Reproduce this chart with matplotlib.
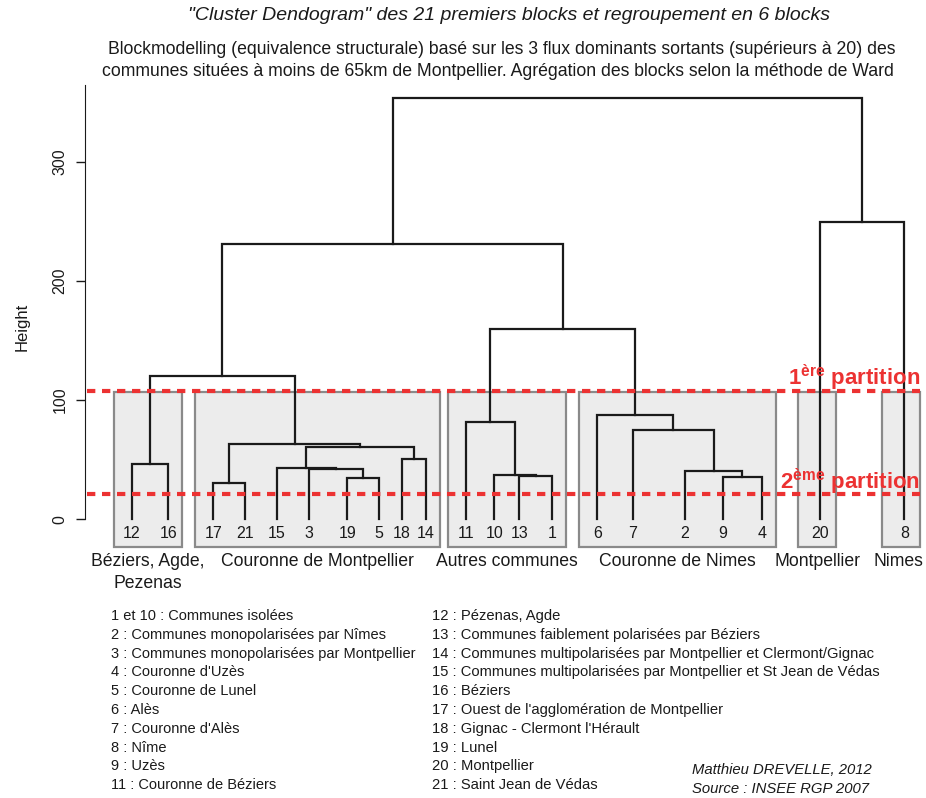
import matplotlib
matplotlib.use("Agg")
import matplotlib.pyplot as plt
from matplotlib.patches import Rectangle

plt.rcParams['font.family'] = ['Liberation Sans', 'DejaVu Sans']
plt.rcParams['mathtext.fontset'] = 'custom'
plt.rcParams['mathtext.rm'] = 'Liberation Sans:bold'
plt.rcParams['mathtext.bf'] = 'Liberation Sans:bold'

# leaves, left to right
leaf_order = [12, 16, 17, 21, 15, 3, 19, 5, 18, 14, 11, 10, 13, 1, 6, 7, 2, 9, 4, 20, 8]

# merges (R hclust style: negative = leaf id, positive = earlier merge number)
merge_left = [-17, -19, -9, -13, -10, -2, -3, -15, -12, -18, 8, 1, -7, -11, -6, 9, 14, 16, -20, 18]
merge_right = [-21, -5, -4, -1, 4, 3, 2, 7, -16, -14, 10, 11, 6, 5, 13, 12, 15, 17, -8, 19]
merge_height = [30.7, 34.9, 35.7, 36.6, 37.4, 40.3, 41.9, 43.3, 46.1, 50.6,
                60.9, 62.9, 75.2, 81.9, 87.8, 120.5, 159.4, 231.2, 249.7, 353.7]

# cut heights
partitions = [107.9, 21.2]
partition_names = ["1", "2"]
partition_sup = ["ère", "ème"]

groups = ["Béziers, Agde,\nPezenas", "Couronne de Montpellier", "Autres communes",
          "Couronne de Nimes", "Montpellier", "Nimes"]
group_members = [[12, 16], [17, 21, 15, 3, 19, 5, 18, 14], [11, 10, 13, 1],
                 [6, 7, 2, 9, 4], [20], [8]]

legend_left = [
    "1 et 10 : Communes isolées",
    "2 : Communes monopolarisées par Nîmes",
    "3 : Communes monopolarisées par Montpellier",
    "4 : Couronne d'Uzès",
    "5 : Couronne de Lunel",
    "6 : Alès",
    "7 : Couronne d'Alès",
    "8 : Nîme",
    "9 : Uzès",
    "11 : Couronne de Béziers",
]
legend_right = [
    "12 : Pézenas, Agde",
    "13 : Communes faiblement polarisées par Béziers",
    "14 : Communes multipolarisées par Montpellier et Clermont/Gignac",
    "15 : Communes multipolarisées par Montpellier et St Jean de Védas",
    "16 : Béziers",
    "17 : Ouest de l'agglomération de Montpellier",
    "18 : Gignac - Clermont l'Hérault",
    "19 : Lunel",
    "20 : Montpellier",
    "21 : Saint Jean de Védas",
]

# layout: leaf positions along the x axis (the leaves were spread by hand in the original)
leaf_x = [131.7, 168.3, 213.3, 245, 276.7, 309, 347.3, 379.3, 401.7, 426,
          465.7, 494.3, 519.3, 552.3, 597.3, 632.7, 685, 722.7, 761.7, 820, 904.3]

W, H = 926, 798
fig = plt.figure(figsize=(W / 100, H / 100), dpi=100)
ax = fig.add_axes([0, 0, 1, 1])
# pixel row -> height
y0, k = 519.3, 1.192
def hpx(p):
    return (y0 - p) / k
ax.set_xlim(0, W)
ax.set_ylim(hpx(H), hpx(0))

pos = dict(zip(leaf_order, leaf_x))

# grey boxes for the 6 blocks
box_lo, box_hi = -23.0, 106.5
for name, mem in zip(groups, group_members):
    xs = [pos[m] for m in mem]
    if len(xs) == 1:
        lo, hi = xs[0] - 22, xs[0] + 16
    else:
        lo, hi = min(xs) - 18, max(xs) + 14
    ax.add_patch(Rectangle((lo, box_lo), hi - lo, box_hi - box_lo,
                           facecolor='#ececec', edgecolor='#8a8a8a', lw=1.6, zorder=1))
    cx = min((lo + hi) / 2, 898)
    for i, ln in enumerate(name.split("\n")):
        ax.text(cx, hpx(561 + 22 * i), ln, ha='center', va='center',
                fontsize=12.7, color='#1a1a1a', zorder=3)

# dendrogram
node_x, node_h = {}, {}
def get(n):
    if n < 0:
        return pos[-n], 0.0
    return node_x[n], node_h[n]

for i, (l, r, h) in enumerate(zip(merge_left, merge_right, merge_height), start=1):
    xl, hl = get(l)
    xr, hr = get(r)
    ax.plot([xl, xl, xr, xr], [hl, h, h, hr], color='#1a1a1a', lw=1.6,
            solid_joinstyle='miter', zorder=2)
    node_x[i] = (xl + xr) / 2
    node_h[i] = h

for leaf, x in zip(leaf_order, leaf_x):
    ax.text(x, hpx(533), str(leaf), ha='center', va='center', fontsize=11.5,
            color='#1a1a1a', zorder=3)

# partition lines
red = '#ec3232'
for h, n, s in zip(partitions, partition_names, partition_sup):
    ax.plot([87, 920], [h, h], color=red, lw=3, dashes=(2, 1.6), zorder=4)
    ax.text(920, h + 4.4, n + r"$^{\mathrm{" + s + r"}}$ partition", ha='right',
            va='baseline', fontsize=16, fontweight='bold', color=red, zorder=5)

# y axis
for s in ['top', 'right', 'bottom']:
    ax.spines[s].set_visible(False)
ax.spines['left'].set_position(('data', 85))
ax.spines['left'].set_bounds(0, 364)
ax.spines['left'].set_color('#1a1a1a')
ax.set_xticks([])
ax.set_yticks([0, 100, 200, 300])
ax.tick_params(axis='y', length=6.5, width=1, labelsize=11.5, pad=6, colors='#1a1a1a')
for t in ax.get_yticklabels():
    t.set_rotation(90)
    t.set_va('center')
ax.text(22, hpx(326.5), "Height", rotation=90, ha='center', va='center', fontsize=12,
        color='#1a1a1a')

# titles
fig.text(509 / W, 1 - 15 / H,
         '"Cluster Dendogram" des 21 premiers blocks et regroupement en 6 blocks',
         ha='center', va='center', fontsize=14, style='italic', color='#1a1a1a')
fig.text(501.5 / W, 1 - 50 / H,
         "Blockmodelling (equivalence structurale) basé sur les 3 flux dominants sortants (supérieurs à 20) des",
         ha='center', va='center', fontsize=12.7, color='#1a1a1a')
fig.text(498 / W, 1 - 72 / H,
         "communes situées à moins de 65km de Montpellier. Agrégation des blocks selon la méthode de Ward",
         ha='center', va='center', fontsize=12.7, color='#1a1a1a')

# legend of blocks
for i, t in enumerate(legend_left):
    fig.text(111 / W, 1 - (616 + 18.8 * i) / H, t, ha='left', va='center',
             fontsize=10.5, color='#1a1a1a')
for i, t in enumerate(legend_right):
    fig.text(432 / W, 1 - (616 + 18.8 * i) / H, t, ha='left', va='center',
             fontsize=10.6, color='#1a1a1a')

fig.text(692 / W, 1 - 770 / H, "Matthieu DREVELLE, 2012", ha='left', va='center',
         fontsize=10.7, style='italic', color='#1a1a1a')
fig.text(692 / W, 1 - 789 / H, "Source : INSEE RGP 2007", ha='left', va='center',
         fontsize=10.7, style='italic', color='#1a1a1a')

fig.savefig("out.png", dpi=100)
